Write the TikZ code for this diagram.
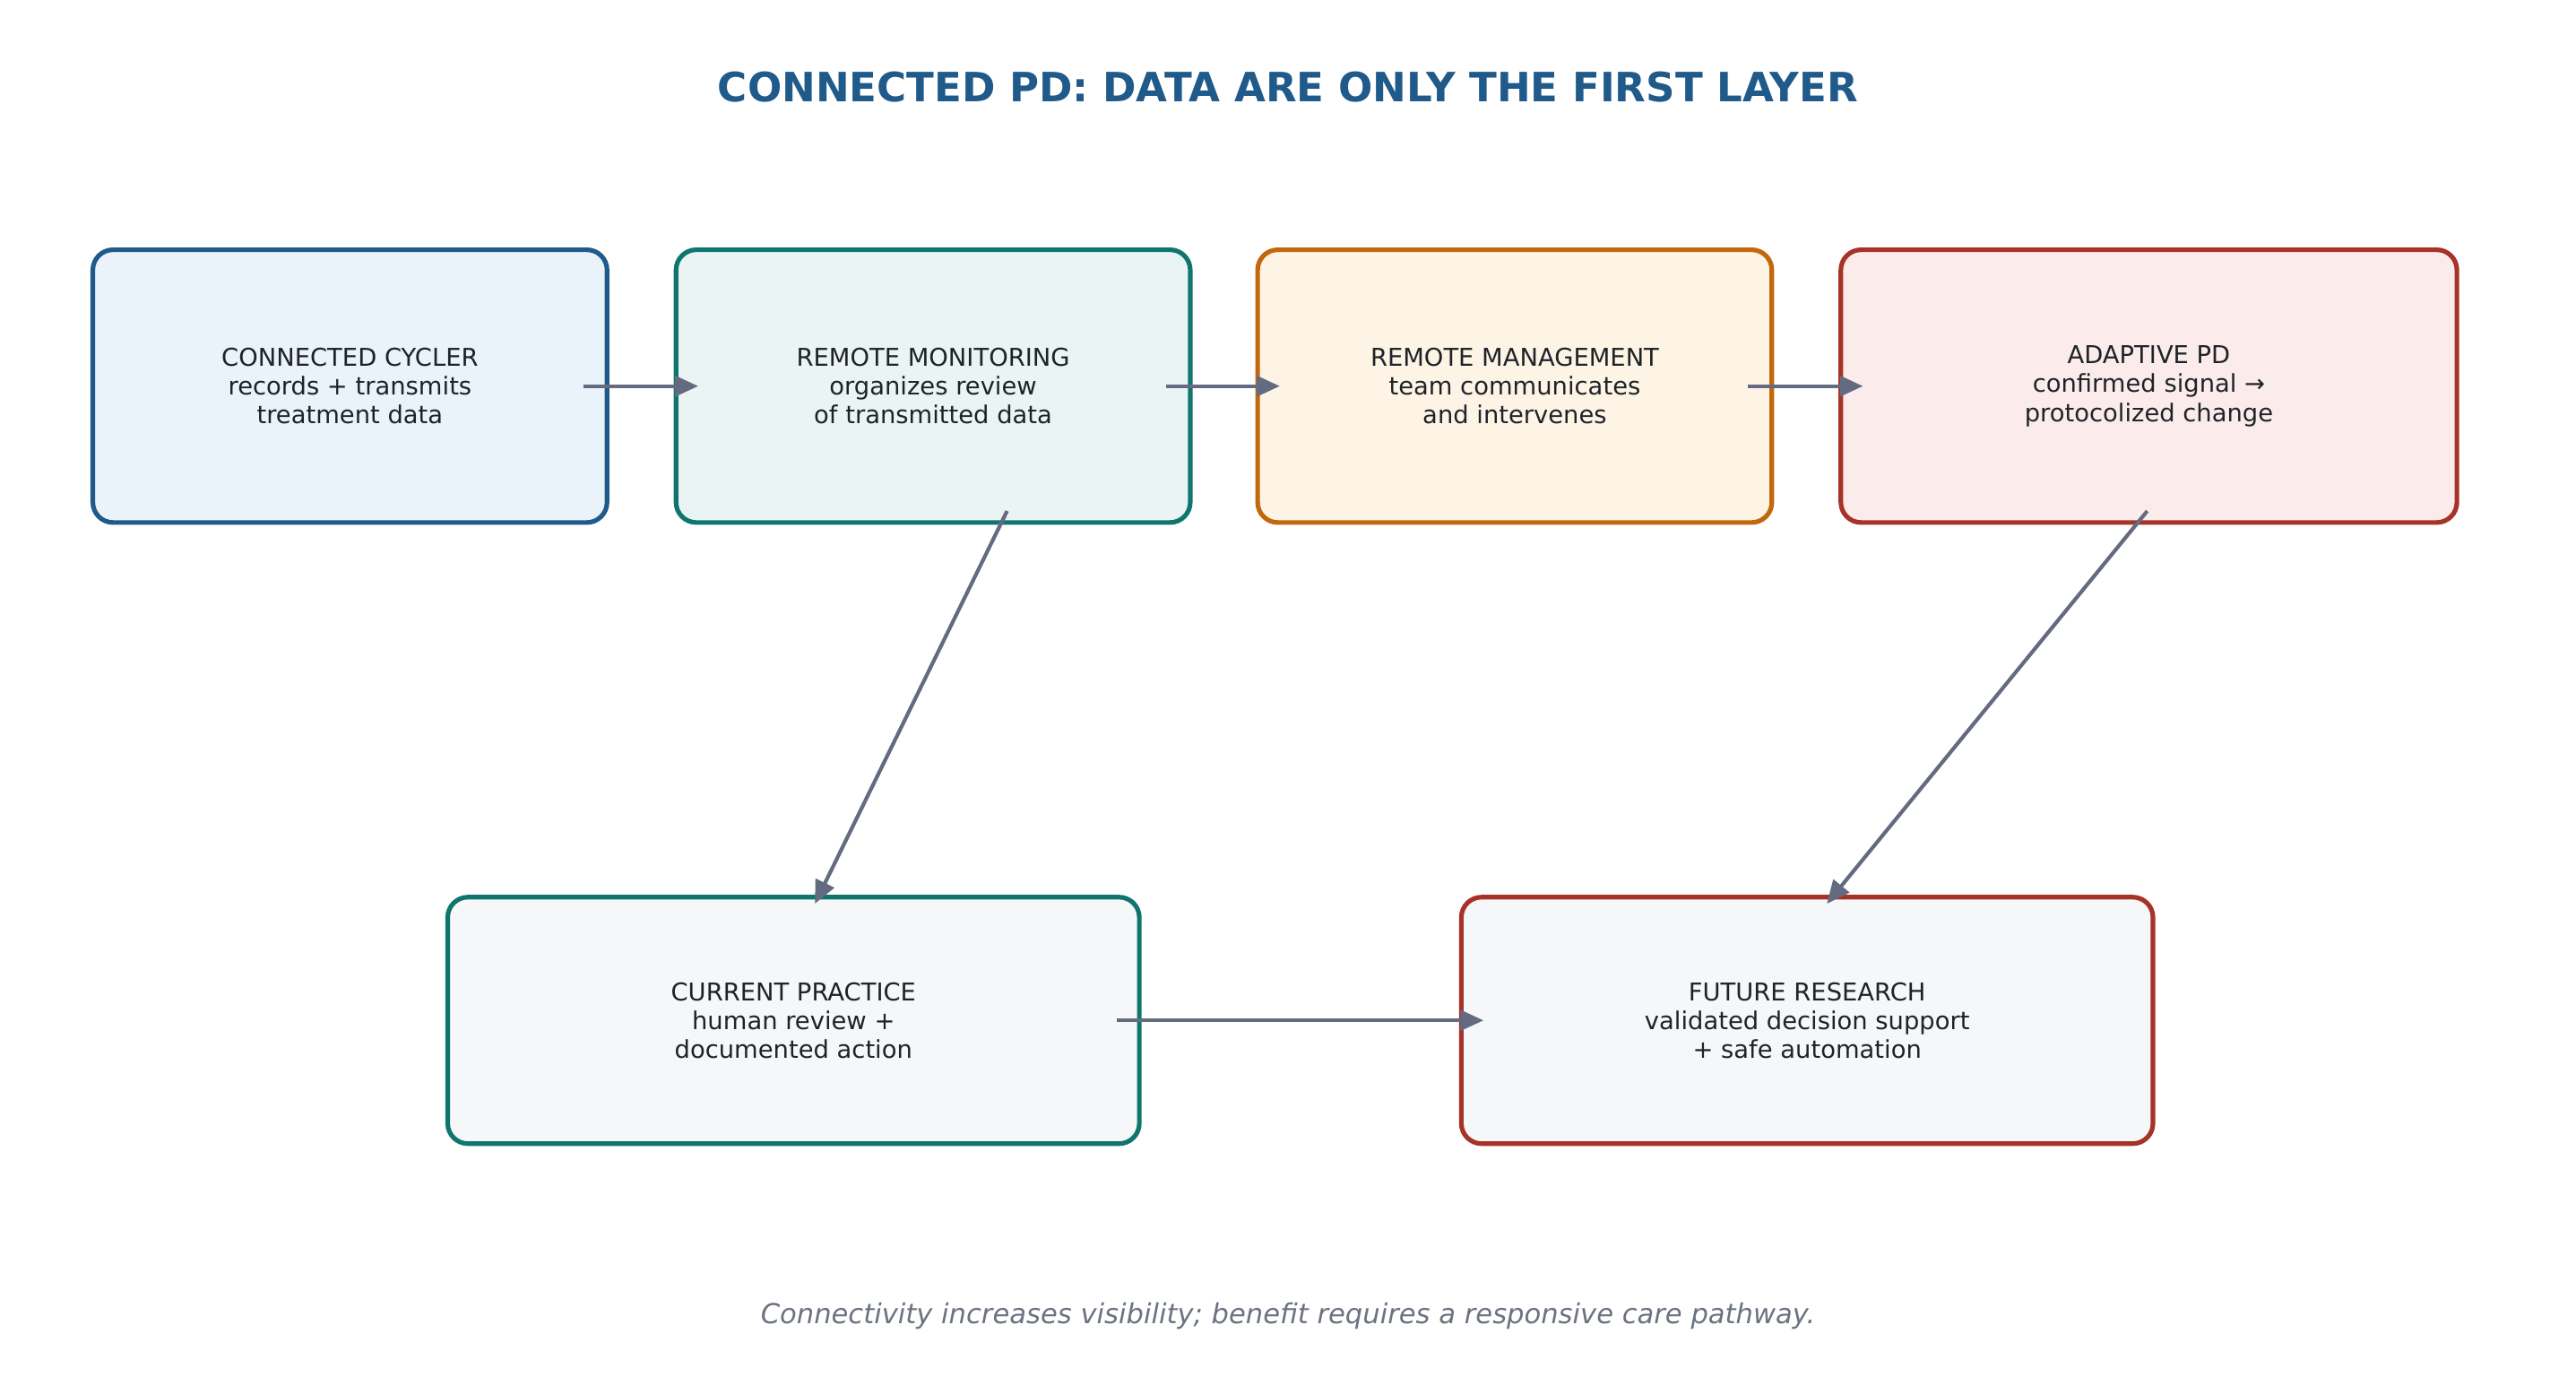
\documentclass[tikz,border=0pt]{standalone}
\usepackage{fontspec}
\setmainfont{DejaVu Sans}
\usetikzlibrary{arrows.meta}
\definecolor{tblue}{HTML}{1F5A8A}\definecolor{fblue}{HTML}{EAF2FA}
\definecolor{tteal}{HTML}{0F766E}\definecolor{fteal}{HTML}{EAF4F4}
\definecolor{torange}{HTML}{C2680A}\definecolor{forange}{HTML}{FEF4E6}
\definecolor{tred}{HTML}{A63228}\definecolor{fred}{HTML}{FBECEB}
\definecolor{fgray}{HTML}{F5F7F9}\definecolor{arr}{HTML}{646B80}
\definecolor{txt}{HTML}{1F2328}\definecolor{foot}{HTML}{6B7280}
\begin{document}
\begin{tikzpicture}[x=0.02cm,y=-0.02cm,
 box/.style={draw=#1,line width=1.6pt,rounded corners=7pt,align=center,font=\fontsize{8.5}{10}\selectfont,text=txt,inner sep=0pt},
 ar/.style={draw=arr,line width=1.3pt,-{Triangle[length=8pt,width=7pt]}}]
\useasboundingbox (0,0) rectangle (1568,848);
\node[box=tblue,fill=fblue,minimum width=313*0.02cm,minimum height=166*0.02cm] (b1) at (213,235) {CONNECTED CYCLER\\records + transmits\\treatment data};
\node[box=tteal,fill=fteal,minimum width=313*0.02cm,minimum height=166*0.02cm] (b2) at (568,235) {REMOTE MONITORING\\organizes review\\of transmitted data};
\node[box=torange,fill=forange,minimum width=313*0.02cm,minimum height=166*0.02cm] (b3) at (922,235) {REMOTE MANAGEMENT\\team communicates\\and intervenes};
\node[box=tred,fill=fred,minimum width=375*0.02cm,minimum height=166*0.02cm] (b4) at (1308,235) {ADAPTIVE PD\\confirmed signal →\\protocolized change};
\node[box=tteal,fill=fgray,minimum width=421*0.02cm,minimum height=150*0.02cm] (b5) at (483,621) {CURRENT PRACTICE\\human review +\\documented action};
\node[box=tred,fill=fgray,minimum width=421*0.02cm,minimum height=150*0.02cm] (b6) at (1100,621) {FUTURE RESEARCH\\validated decision support\\+ safe automation};
\coordinate (a1) at (355,235); \coordinate (a2) at (425,235);
\coordinate (a3) at (710,235); \coordinate (a4) at (779,235);
\coordinate (a5) at (1064,235); \coordinate (a6) at (1134,235);
\coordinate (a7) at (613,311); \coordinate (a8) at (496,550);
\coordinate (a9) at (1307,311); \coordinate (a10) at (1112,550);
\coordinate (a11) at (680,621); \coordinate (a12) at (903,621);
\draw[ar] (a1)--(a2); \draw[ar] (a3)--(a4); \draw[ar] (a5)--(a6);
\draw[ar] (a7)--(a8); \draw[ar] (a9)--(a10); \draw[ar] (a11)--(a12);
\node[font=\fontsize{14}{16}\selectfont\bfseries,text=tblue] (title) at (784,53) {CONNECTED PD: DATA ARE ONLY THE FIRST LAYER};
\node[font=\fontsize{9.5}{11}\selectfont\itshape,text=foot] (foot) at (784,801) {Connectivity increases visibility; benefit requires a responsive care pathway.};
\end{tikzpicture}
\end{document}
